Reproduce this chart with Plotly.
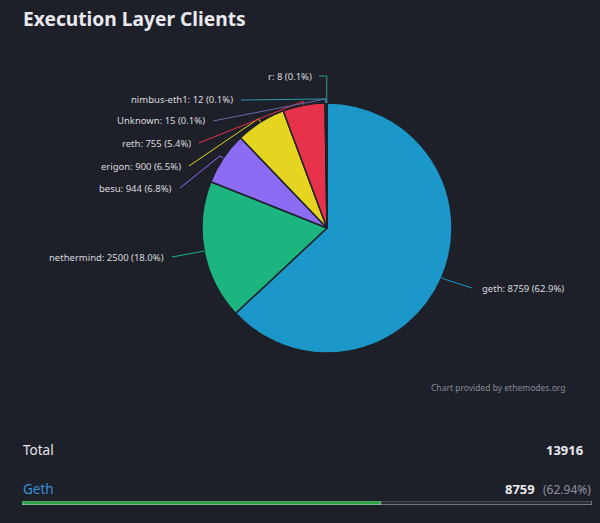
import math
import plotly.graph_objects as go

# ---------------- data ----------------
clients = ["geth", "nethermind", "besu", "erigon", "reth", "Unknown", "nimbus-eth1", "r"]
counts = [8759, 2500, 944, 900, 755, 15, 12, 8]
pct_labels = ["62.9", "18.0", "6.8", "6.5", "5.4", "0.1", "0.1", "0.1"]
total_nodes = 13916
top_client = "Geth"
top_count = 8759
top_pct = "62.94"

# ---------------- styles / layout ----------------
W, H = 600, 523
BG = "#1e2029"
colors = ["#1b98c9", "#1cb580", "#8b6cf3", "#e5d420", "#e6324a", "#6468a8", "#2a98ad", "#2a9f88"]
CX, CY, R = 327, 228, 125          # pie centre / radius in pixels
# label anchor (pixel) positions: (x, y, side) ; side: 'r' = text to the right
label_pos = [(480, 288, "r"), (166, 257, "l"), (174, 188, "l"), (183, 166, "l"),
             (193, 143, "l"), (207, 121, "l"), (235, 100, "l"), (314, 76, "l")]
FONT = "Noto Sans, Open Sans, sans-serif"


def px(x, y):
    return x / W, 1 - y / H


fig = go.Figure()

x0, y1 = px(CX - R, CY - R)
x1, y0 = px(CX + R, CY + R)
fig.add_trace(go.Pie(
    labels=clients, values=counts, sort=False, direction="clockwise", rotation=0,
    marker=dict(colors=colors, line=dict(color=BG, width=1.5)),
    textinfo="none", hoverinfo="label+value", showlegend=False,
    domain=dict(x=[x0, x1], y=[y0, y1]),
))

# leader lines + labels, edge points computed from data
tot = sum(counts)
cum = 0
shapes = []
annotations = []
for name, v, p, col, (lx, ly, side) in zip(clients, counts, pct_labels, colors, label_pos):
    mid = (cum + v / 2) / tot * 2 * math.pi
    cum += v
    sx, sy = math.sin(mid), -math.cos(mid)
    ex, ey = CX + R * sx, CY + R * sy
    kx, ky = CX + (R + 4) * sx, CY + (R + 4) * sy
    if name == "r":
        pts = [(ex, ey), (ex, ly), (lx + 5, ly)]
    else:
        endx = lx + 6 if side == "l" else lx - 8
        pts = [(ex, ey), (kx, ky), (endx, ly)]
    path = "M " + " L ".join(f"{px(a, b)[0]:.5f},{px(a, b)[1]:.5f}" for a, b in pts)
    shapes.append(dict(type="path", path=path, xref="paper", yref="paper",
                       line=dict(color=col, width=1)))
    ax_, ay_ = px(lx, ly)
    annotations.append(dict(
        x=ax_, y=ay_, xref="paper", yref="paper", showarrow=False,
        xanchor="right" if side == "l" else "left", yanchor="middle",
        text=f"{name}: {v} ({p}%)",
        font=dict(family=FONT, size=9.5, color="#d9dadf"),
    ))

# title and footer texts
def text(x, y, s, size, color, anchor="left", bold=False):
    xx, yy = px(x, y)
    annotations.append(dict(x=xx, y=yy, xref="paper", yref="paper", showarrow=False,
                            xanchor=anchor, yanchor="middle",
                            text=f"<b>{s}</b>" if bold else s,
                            font=dict(family=FONT, size=size, color=color)))

text(21, 18, "Execution Layer Clients", 19.2, "#e9e9ee", bold=True)
text(567, 387, "Chart provided by ethemodes.org", 8.5, "#868995", anchor="right")
text(21, 450, "Total", 13.5, "#e4e5ea")
text(585, 450, str(total_nodes), 13, "#e9e9ee", anchor="right", bold=True)
text(21, 489, top_client, 13.5, "#3d8fd6")
text(537, 489, str(top_count), 13, "#e9e9ee", anchor="right", bold=True)
text(593, 489, f"({top_pct}%)", 12, "#8d909b", anchor="right")

# progress bar (bar traces on their own axis)
bx0, by0 = px(22, 505)
bx1, by1 = px(592, 501)
fig.add_trace(go.Bar(x=[total_nodes], y=[0], orientation="h", marker=dict(color="#2c2f3a"),
                     width=1, xaxis="x2", yaxis="y2", hoverinfo="skip", showlegend=False))
fig.add_trace(go.Bar(x=[top_count], y=[0], orientation="h", marker=dict(color="#2fa146"),
                     width=1, xaxis="x2", yaxis="y2", hoverinfo="skip", showlegend=False))

fig.update_layout(
    width=W, height=H, margin=dict(l=0, r=0, t=0, b=0),
    paper_bgcolor=BG, plot_bgcolor=BG,
    barmode="overlay", bargap=0,
    xaxis=dict(visible=False), yaxis=dict(visible=False),
    xaxis2=dict(domain=[bx0, bx1], range=[0, total_nodes], visible=False, anchor="y2"),
    yaxis2=dict(domain=[by0, by1], range=[-0.5, 0.5], visible=False, anchor="x2"),
    shapes=shapes, annotations=annotations,
)

fig.write_html(
    "out.html",
    config={"displayModeBar": False},
    post_script="document.body.style.margin='0';document.body.style.background='" + BG + "';",
)
